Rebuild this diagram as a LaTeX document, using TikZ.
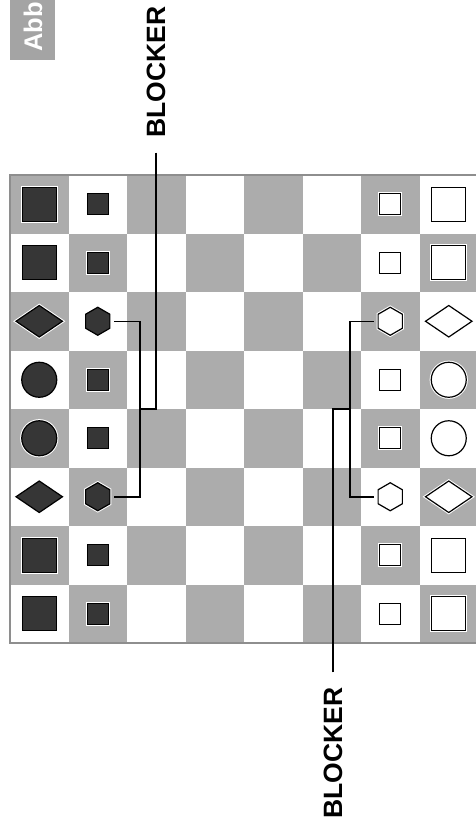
\documentclass[tikz,border=0pt]{standalone}
\usepackage{fontspec}
\setsansfont{Liberation Sans}
\usetikzlibrary{shapes.geometric, positioning}
\definecolor{cboard}{HTML}{ACACAC}
\definecolor{cframe}{HTML}{8E8E8E}
\definecolor{cpiece}{HTML}{363636}
\definecolor{ctag}{HTML}{A4A4A4}

\begin{document}
\begin{tikzpicture}[x=1pt, y=-1pt,
  dark/.style={fill=cboard},
  piece/.style={draw=black, line width=1.2pt, inner sep=0pt,
                preaction={draw=white, line width=3.2pt}},
  bigsq/.style={piece, rectangle, minimum size=34pt},
  smallsq/.style={piece, rectangle, minimum size=21pt},
  bigdia/.style={piece, diamond, minimum width=47pt, minimum height=32pt},
  bigcirc/.style={piece, circle, minimum size=35pt},
  hexa/.style={piece, regular polygon, regular polygon sides=6,
               shape border rotate=30, minimum size=28pt},
  blk/.style={fill=cpiece},
  wht/.style={fill=white},
  conn/.style={line width=1.5pt, black},
  lbl/.style={font=\sffamily\bfseries\fontsize{26.5}{30}\selectfont,
              rotate=90, inner sep=0pt},
  tag/.style={font=\sffamily\bfseries\fontsize{25.5}{30}\selectfont,
              text=white, rotate=90, anchor=west, inner sep=0pt}
]
\useasboundingbox (0,0) rectangle (475,822);
\fill[white] (0,0) rectangle (475,822);

%% Tag
\fill[ctag] (10,0) rectangle (55,60);
\node[tag] (abb) at (33,52) {Abb};

%% Board
\foreach \i in {0,...,7}{
  \foreach \j in {0,...,7}{
    \pgfmathtruncatemacro{\s}{mod(\i+\j,2)}
    \ifnum\s=0
      \fill[dark] ({10+58.5*\i},{175+58.5*\j}) rectangle ++(58.5,58.5);
    \fi
  }
}
\draw[cframe, line width=1.5pt] (10,175) rectangle (478,643);

%% Pieces
\foreach \shp [count=\j from 0] in {bigsq,bigsq,bigdia,bigcirc,bigcirc,bigdia,bigsq,bigsq}{
  \node[\shp, blk] (b\j) at (39.25,{204.25+58.5*\j}) {};
  \node[\shp, wht] (w\j) at (448.75,{204.25+58.5*\j}) {};
}
\foreach \shp [count=\j from 0] in {smallsq,smallsq,hexa,smallsq,smallsq,hexa,smallsq,smallsq}{
  \node[\shp, blk] (sb\j) at (97.75,{204.25+58.5*\j}) {};
  \node[\shp, wht] (sw\j) at (390.25,{204.25+58.5*\j}) {};
}

%% Blockers
\node[lbl] (ltop) at (156,72)  {BLOCKER};
\node[lbl] (lbot) at (333,753) {BLOCKER};
\coordinate (tj) at (140,409);
\coordinate (bj) at (350,409);

\draw[conn, shorten <=4pt, shorten >=4pt] (sb2.east) -| (tj) |- (sb5.east);
\draw[conn, shorten <=15pt] (ltop.west) |- (tj);
\draw[conn, shorten <=4pt, shorten >=4pt] (sw2.west) -| (bj) |- (sw5.west);
\draw[conn, shorten <=15pt] (lbot.east) |- (bj);

\end{tikzpicture}
\end{document}
